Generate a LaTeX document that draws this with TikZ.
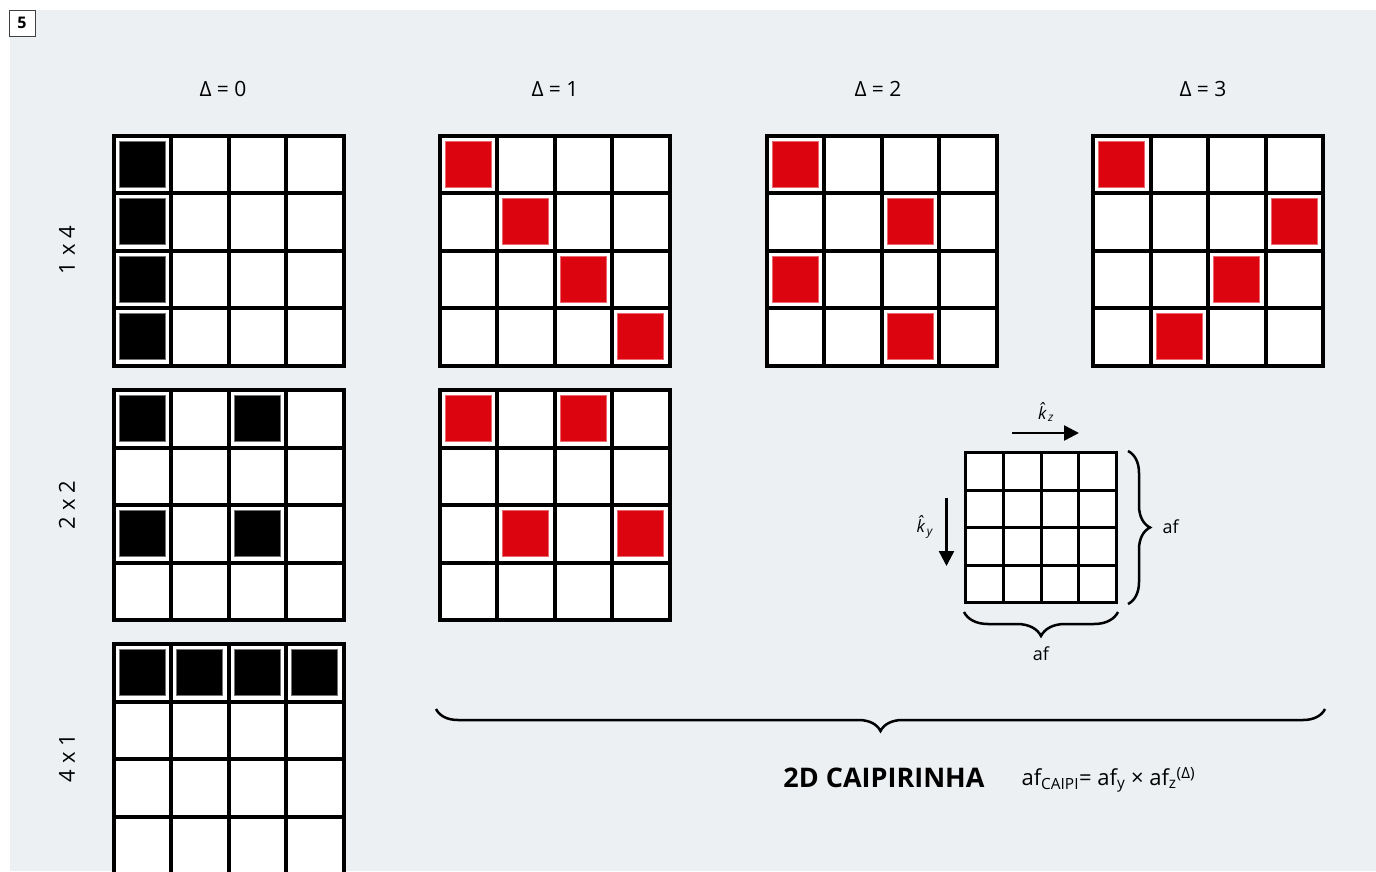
\documentclass[tikz,border=0pt]{standalone}
\usepackage{fontspec}
\setmainfont{Open Sans}
\usetikzlibrary{arrows.meta,decorations.pathreplacing}
\definecolor{bggray}{RGB}{236,240,243}
\definecolor{caired}{RGB}{220,5,15}

\begin{document}
\begin{tikzpicture}[x=1pt, y=-1pt, >={Triangle[length=15pt,width=15pt]},
  gridline/.style={line width=4pt, line cap=rect},
  smallline/.style={line width=3pt, line cap=rect},
  blksq/.style={fill=black, draw=black!55, line width=0.8pt},
  redsq/.style={fill=caired, draw=caired!60, line width=0.8pt},
  lbl/.style={font=\fontsize{21}{21}\selectfont},
  brc/.style={decorate, decoration={brace, amplitude=#1}, line width=2.5pt},
  brc/.default=22pt]
\useasboundingbox (0,0) rectangle (1376,871);
\clip (0,0) rectangle (1376,871);
\fill[bggray] (10,10) rectangle (1376,871);
\node[draw=black!75, fill=white, minimum size=26pt, inner sep=0pt,
  font=\bfseries\fontsize{16}{16}\selectfont] (fignum) at (22,23) {5};

% column and row labels
\foreach \d/\x in {0/223,1/555,2/878,3/1203}
  \node[lbl] (delta\d) at (\x,89) {Δ = \d};
\foreach \n/\t/\y in {a/1 x 4/250,b/2 x 2/505,c/4 x 1/758}
  \node[rotate=90, font=\fontsize{22}{22}\selectfont] (acc\n) at (67,\y) {\t};

% sampling grids
\foreach \gx/\gy in {113.5/135.5,439.5/135.5,766.5/135.5,1093/135.5,
                     113.5/390,439.5/390,113.5/644}{
  \fill[white] (\gx,\gy) rectangle ++(230,230);
}
\foreach \gx/\gy/\c/\r/\s in {
  113.5/135.5/0/0/blksq, 113.5/135.5/0/1/blksq, 113.5/135.5/0/2/blksq, 113.5/135.5/0/3/blksq,
  439.5/135.5/0/0/redsq, 439.5/135.5/1/1/redsq, 439.5/135.5/2/2/redsq, 439.5/135.5/3/3/redsq,
  766.5/135.5/0/0/redsq, 766.5/135.5/2/1/redsq, 766.5/135.5/0/2/redsq, 766.5/135.5/2/3/redsq,
  1093/135.5/0/0/redsq, 1093/135.5/3/1/redsq, 1093/135.5/2/2/redsq, 1093/135.5/1/3/redsq,
  113.5/390/0/0/blksq, 113.5/390/2/0/blksq, 113.5/390/0/2/blksq, 113.5/390/2/2/blksq,
  439.5/390/0/0/redsq, 439.5/390/2/0/redsq, 439.5/390/1/2/redsq, 439.5/390/3/2/redsq,
  113.5/644/0/0/blksq, 113.5/644/1/0/blksq, 113.5/644/2/0/blksq, 113.5/644/3/0/blksq}{
  \draw[\s] (\gx+\c*57.5+5.5,\gy+\r*57.5+5.5) rectangle ++(46,46);
}
\foreach \gx/\gy in {113.5/135.5,439.5/135.5,766.5/135.5,1093/135.5,
                     113.5/390,439.5/390,113.5/644}{
  \foreach \k in {0,...,4}{
    \draw[gridline] (\gx+\k*57.5,\gy) -- ++(0,230);
    \draw[gridline] (\gx,\gy+\k*57.5) -- ++(230,0);
  }
}

% k-space sketch
\fill[white] (965.5,452.5) rectangle (1116.5,602.5);
\foreach \k in {0,...,4}{
  \draw[smallline] (965.5+\k*37.75,452.5) -- ++(0,150);
  \draw[smallline] (965.5,452.5+\k*37.5) -- ++(151,0);
}
\coordinate (kzs) at (1012,433);
\coordinate (kze) at (1079,433);
\coordinate (kys) at (946.5,498);
\coordinate (kye) at (946.5,566);
\draw[->, line width=2.5pt] (kzs) -- (kze);
\draw[->, line width=2.5pt] (kys) -- (kye);
\node[font=\fontsize{17}{17}\selectfont] (kz) at (1046,412)
  {\textit{\^{k}}\kern-2pt\textsubscript{\textit{z}}};
\node[font=\fontsize{17}{17}\selectfont] (ky) at (925,527)
  {\textit{\^{k}}\kern-2pt\textsubscript{\textit{y}}};

\coordinate (rbt) at (1128,451);
\coordinate (rbb) at (1128,604);
\draw[brc] (rbt) -- (rbb);
\node[font=\fontsize{18}{18}\selectfont, anchor=west] (afr) at (1159,527) {af};
\coordinate (bbr) at (1118,612);
\coordinate (bbl) at (964,612);
\draw[brc=24pt] (bbr) -- (bbl);
\node[font=\fontsize{18}{18}\selectfont] (afb) at (1041,654) {af};

% caipirinha brace and caption
\coordinate (cbr) at (1325,709);
\coordinate (cbl) at (436,709);
\draw[brc=22pt] (cbr) -- (cbl);
\node[font=\bfseries\fontsize{27}{27}\selectfont] (caipi) at (884,778) {2D CAIPIRINHA};
\node[font=\fontsize{22}{22}\selectfont, anchor=west] (afcaipi) at (1018,780)
  {af\textsubscript{CAIPI}= af\textsubscript{y} × af\textsubscript{z}\textsuperscript{(Δ)}};
\end{tikzpicture}
\end{document}
